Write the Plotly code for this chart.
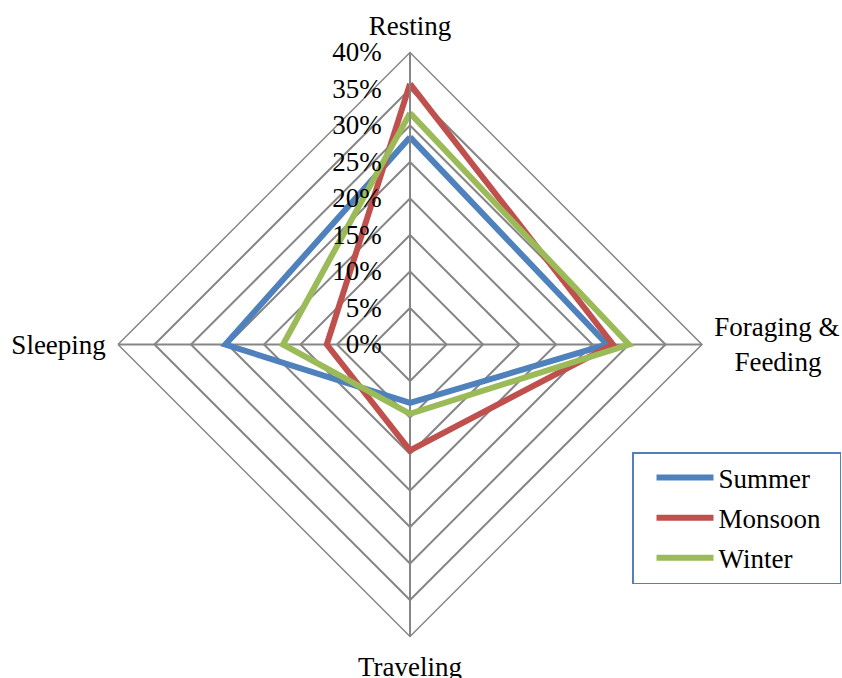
import plotly.graph_objects as go

# Share of time (%) spent on each activity, by season
NB = "\u00a0"
categories = ["Resting", "Foraging &<br>" + NB * 3 + "Feeding", "Traveling", "Sleeping"]
summer = [28.4, 27.0, 8.0, 25.3]
monsoon = [35.7, 27.8, 14.5, 11.4]
winter = [31.7, 30.0, 9.5, 17.4]

radial_ticks = [0, 5, 10, 15, 20, 25, 30, 35, 40]

series = [
    ("Summer", summer, "#4F81BD"),
    ("Monsoon", monsoon, "#C0504D"),
    ("Winter", winter, "#9BBB59"),
]

FONT = "Times New Roman"
FS = 27
GRID = "#868686"

fig = go.Figure()
for name, vals, color in series:
    fig.add_trace(go.Scatterpolar(
        r=vals + vals[:1],
        theta=categories + categories[:1],
        mode="lines",
        name=name + NB * 2,
        legendgroup=name,
        line=dict(color=color, width=6),
    ))

W, H = 842, 678
cx, cy, R = 410, 344.5, 292

fig.update_layout(
    width=W, height=H,
    margin=dict(l=0, r=0, t=0, b=0, autoexpand=False),
    paper_bgcolor="white",
    font=dict(family=FONT, size=FS, color="black"),
    polar=dict(
        domain=dict(x=[(cx - R) / W, (cx + R) / W],
                    y=[1 - (cy + R) / H, 1 - (cy - R) / H]),
        gridshape="linear",
        bgcolor="white",
        radialaxis=dict(
            range=[0, 40],
            tickvals=radial_ticks,
            ticktext=[f"{v}%" for v in radial_ticks],
            angle=90,
            side="counterclockwise",
            tickangle=90,
            showline=True, linecolor=GRID, linewidth=1.5,
            gridcolor=GRID, gridwidth=1.5,
            ticks="outside", ticklen=18, tickcolor="rgba(0,0,0,0)",
            tickfont=dict(family=FONT, size=FS),
        ),
        angularaxis=dict(
            rotation=90,
            direction="clockwise",
            showline=True, linecolor=GRID, linewidth=1.5,
            gridcolor=GRID, gridwidth=1.5,
            ticks="outside", ticklen=6, tickcolor="rgba(0,0,0,0)",
            tickfont=dict(family=FONT, size=FS),
        ),
    ),
    legend=dict(
        x=632 / W, y=1 - 452 / H, xanchor="left", yanchor="top",
        bordercolor="#4F81BD", borderwidth=1.5,
        bgcolor="white",
        font=dict(family=FONT, size=FS),
        itemwidth=57,
        indentation=18,
        tracegroupgap=2,
        traceorder="grouped",
    ),
)

fig.write_html("out.html")
